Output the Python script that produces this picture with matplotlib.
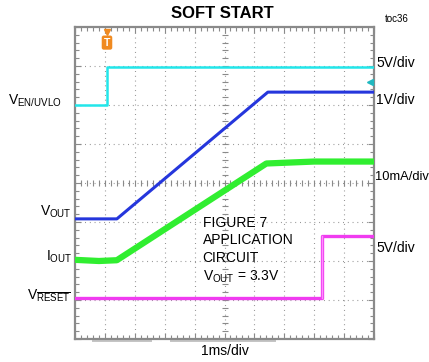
import numpy as np
import matplotlib.pyplot as plt

plt.rcParams['font.family'] = ['Liberation Sans', 'DejaVu Sans']
plt.rcParams['mathtext.fontset'] = 'custom'
plt.rcParams['mathtext.rm'] = 'Liberation Sans'
plt.rcParams['mathtext.it'] = 'Liberation Sans'

# screen traces, x in ms (1ms/div), y in divisions from the bottom of the screen
t_en = [0, 1.07, 1.07, 10]
v_en = [6.0, 6.0, 6.97, 6.97]

t_out = [0, 1.4, 6.45, 10]
v_out = [3.08, 3.08, 6.33, 6.33]

t_iout = [0, 0.8, 1.4, 6.4, 8.0, 10]
i_out = [2.03, 2.0, 2.02, 4.5, 4.55, 4.55]

t_rst = [0, 8.27, 8.27, 10]
v_rst = [1.05, 1.05, 2.64, 2.64]

c_en = '#22e6ea'
c_out = '#2536dc'
c_iout = '#30ee30'
c_rst = '#f03cf0'
grey = '#8a8a8a'

fig = plt.figure(figsize=(4.29, 3.62), dpi=100)
ax = fig.add_axes([75/429, 1-339/362, 299/429, 312/362])
ax.set_xlim(0, 10)
ax.set_ylim(0, 8)

# graticule
for x in range(1, 10):
    ax.axvline(x, color=grey, lw=0.8, ls=(0, (0.8, 3.5)), zorder=1)
for y in range(1, 8):
    ax.axhline(y, color=grey, lw=0.8, ls=(0, (0.8, 3.5)), zorder=1)
fine = np.arange(0, 10.01, 0.2)
ax.plot(fine, np.full_like(fine, 4), ls='none', marker='|', ms=4, mew=0.8, color=grey, zorder=1)
fine_y = np.arange(0, 8.01, 0.2)
ax.plot(np.full_like(fine_y, 5), fine_y, ls='none', marker='_', ms=4, mew=0.8, color=grey, zorder=1)

ax.set_xticks(range(0, 11))
ax.set_yticks(range(0, 9))
ax.set_xticks(fine, minor=True)
ax.set_yticks(fine_y, minor=True)
ax.tick_params(which='both', direction='in', top=True, right=True,
               labelbottom=False, labelleft=False, color=grey)
ax.tick_params(which='major', length=4, width=0.8)
ax.tick_params(which='minor', length=3, width=0.8)
for s in ax.spines.values():
    s.set_color(grey)
    s.set_linewidth(1.6)

# record position bar under the screen
ax.plot([0.6, 2.55], [-0.04, -0.04], color='#c4c4c4', lw=1.4, clip_on=False, zorder=0)
ax.plot([3.2, 6.7], [-0.04, -0.04], color='#c4c4c4', lw=1.4, clip_on=False, zorder=0)

# traces
ax.plot(t_en, v_en, color=c_en, lw=1.8, zorder=3)
ax.plot(t_out, v_out, color=c_out, lw=2.2, zorder=3)
ax.plot(t_iout, i_out, color=c_iout, lw=4.5, zorder=3)
ax.plot(t_rst, v_rst, color=c_rst, lw=2.4, zorder=3)
ax.plot(t_rst[1:3], v_rst[1:3], color='#ff8cff', lw=1.0, zorder=4)

# trigger and level markers
ax.plot(1.07, 7.87, marker='v', ms=5, color='#f08a20', clip_on=False, zorder=5)
ax.text(1.07, 7.6, 'T', color='white', fontsize=7.5, fontweight='bold', ha='center', va='center',
        bbox=dict(boxstyle='round,pad=0.2', fc='#f08a20', ec='none'), zorder=5)
ax.plot(9.85, 6.6, marker='<', ms=4, color='#20b8c0', zorder=5)

fig.text(222/429, 1-14/362, 'SOFT START', fontsize=12, fontweight='bold', ha='center', va='center')
fig.text(397/429, 1-19/362, 'toc36', fontsize=7, ha='center', va='center')
fig.text(225/429, 1-351/362, '1ms/div', fontsize=10, ha='center', va='center')

# channel names on the left
lbl = dict(fontsize=10, ha='right', va='center', transform=ax.transData, clip_on=False)
ax.text(-0.45, 6.1, r'V$_{\mathrm{EN/UVLO}}$', **lbl)
ax.text(-0.1, 3.25, r'V$_{\mathrm{OUT}}$', **lbl)
ax.text(-0.1, 2.1, r'I$_{\mathrm{OUT}}$', **lbl)
ax.text(-0.15, 1.12, r'V$_{\overline{\mathrm{RESET}}}$', **lbl)

# scale settings on the right
sc = dict(fontsize=10, ha='left', va='center', clip_on=False)
ax.text(10.08, 7.08, '5V/div', **sc)
ax.text(10.08, 6.13, '1V/div', **sc)
ax.text(10.05, 4.15, '10mA/div', fontsize=9.3, ha='left', va='center', clip_on=False)
ax.text(10.08, 2.33, '5V/div', **sc)

ax.text(4.27, 3.15, 'FIGURE 7\nAPPLICATION\nCIRCUIT\n' + r'V$_{\mathrm{OUT}}$ = 3.3V',
        fontsize=10, ha='left', va='top', linespacing=1.3, zorder=6)

fig.savefig('out.png', dpi=100)
